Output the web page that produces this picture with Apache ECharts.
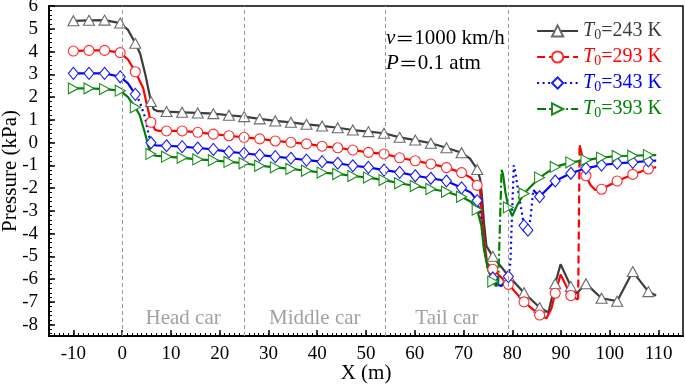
<!DOCTYPE html>
<html><head><meta charset="utf-8">
<script src="https://cdn.jsdelivr.net/npm/echarts@6/dist/echarts.min.js"></script>
<style>html,body{margin:0;padding:0;background:#fff}#c{width:685px;height:387px}</style>
</head><body><div id="c"></div>
<script>
const FONT = '"Liberation Serif","Times New Roman",serif';
const CJK = '"Noto Sans CJK SC",sans-serif';

// tick labels
const xTickLabels = [-10, 0, 10, 20, 30, 40, 50, 60, 70, 80, 90, 100, 110];
const yTickLabels = [-8, -7, -6, -5, -4, -3, -2, -1, 0, 1, 2, 3, 4, 5, 6];

// car sections
const dividers = [0, 25, 54, 79.2];
const carNames = ['Head car', 'Middle car', 'Tail car'];

// legend names / temperatures
const temps = ['243', '293', '343', '393'];
const names = temps.map(t => 'T0=' + t + ' K');

// marker positions (m)
const markX = [-10, -6.8, -3.6, -0.4, 2.7, 5.9, 9.1, 12.3, 15.5, 18.7, 21.9, 25.0, 28.2, 31.4, 34.6, 37.8, 41.0, 44.2, 47.3, 50.5, 53.7, 56.9, 60.1, 63.3, 66.5, 69.6, 72.8, 76.0, 79.2, 82.4, 85.6, 88.8, 92.0, 95.1, 98.3, 101.5, 104.7, 107.9];
const markX343Extra = [83.2];

// pressure curves [X (m), P (kPa)]
const c243 = [[-10,5.35],[-6.8,5.37],[-3.6,5.38],[-0.4,5.25],[1.2,4.95],[2.7,4.36],[3.7,3.9],[4.8,2.95],[5.9,1.8],[6.5,1.45],[7.3,1.38],[9.1,1.36],[12.3,1.33],[15.5,1.30],[18.7,1.27],[21.9,1.20],[25.0,1.14],[28.2,1.04],[31.4,0.95],[34.6,0.89],[37.8,0.80],[41.0,0.73],[44.2,0.65],[47.3,0.55],[50.5,0.48],[53.7,0.41],[56.9,0.23],[60.1,0.11],[63.3,-0.03],[66.5,-0.23],[69.6,-0.45],[71.3,-0.7],[72.8,-1.18],[73.4,-1.6],[73.8,-2.4],[74.2,-3.55],[74.7,-4.55],[76.0,-5.0],[79.2,-5.85],[82.4,-6.6],[85.6,-7.25],[87.4,-7.47],[88.8,-6.2],[89.9,-5.35],[92.0,-6.32],[93.2,-6.62],[95.1,-6.2],[98.3,-6.84],[101.5,-6.97],[104.7,-5.67],[107.9,-6.55],[109.5,-6.72]];
const c293 = [[-10,4.02],[-6.8,4.05],[-3.6,4.05],[-0.4,3.95],[1.2,3.65],[2.7,3.11],[4.3,2.4],[5.3,1.45],[5.9,0.89],[6.8,0.55],[7.6,0.51],[9.1,0.51],[12.3,0.51],[15.5,0.45],[18.7,0.37],[21.9,0.30],[25.0,0.23],[28.2,0.16],[31.4,0.07],[34.6,0.01],[37.8,-0.06],[41.0,-0.16],[44.2,-0.23],[47.3,-0.33],[50.5,-0.43],[53.7,-0.50],[56.9,-0.67],[60.1,-0.80],[63.3,-0.94],[66.5,-1.10],[69.6,-1.32],[71.5,-1.55],[72.8,-1.88],[73.4,-2.1],[73.7,-3.1],[74.2,-4.28],[74.85,-5.3],[76.0,-5.57],[79.2,-6.23],[82.4,-7.0],[85.6,-7.58],[87.0,-7.72],[88.0,-7.3],[88.8,-6.62],[89.9,-5.8],[92.0,-6.72],[93.2,-6.87],[93.5,-6.9],[93.8,-0.12],[94.1,-0.2],[94.4,-0.65],[95.1,-1.46],[96.0,-1.85],[97.0,-2.08],[98.3,-2.05],[101.5,-1.69],[104.7,-1.40],[107.9,-1.16],[109.5,-1.08]];
const c343 = [[-10,3.04],[-6.8,3.04],[-3.6,3.04],[-0.4,2.89],[1.2,2.6],[2.7,2.12],[3.6,1.8],[4.7,1.1],[5.4,0.4],[5.9,-0.01],[6.8,-0.12],[9.1,-0.14],[12.3,-0.18],[15.5,-0.24],[18.7,-0.30],[21.9,-0.41],[25.0,-0.47],[28.2,-0.55],[31.4,-0.62],[34.6,-0.69],[37.8,-0.77],[41.0,-0.84],[44.2,-0.91],[47.3,-1.02],[50.5,-1.09],[53.7,-1.21],[56.9,-1.31],[60.1,-1.46],[63.3,-1.57],[66.5,-1.69],[69.6,-1.99],[71.5,-2.2],[72.8,-2.55],[73.5,-3.2],[74.0,-4.28],[74.85,-5.45],[76.0,-5.95],[76.8,-6.25],[77.8,-6.3],[79.2,-5.89],[79.6,-5.3],[80.3,-1.0],[80.7,-1.4],[81.5,-2.5],[82.4,-3.65],[83.2,-3.85],[83.7,-3.4],[84.3,-2.08],[85.6,-2.38],[88.8,-1.69],[92.0,-1.35],[95.1,-1.13],[98.3,-0.99],[101.5,-0.91],[104.7,-0.87],[107.9,-0.81],[109.5,-0.79]];
const c393 = [[-10,2.38],[-6.8,2.38],[-3.6,2.35],[-0.4,2.28],[1.2,2.0],[2.7,1.55],[3.6,1.2],[4.7,0.4],[5.4,-0.2],[5.9,-0.50],[6.8,-0.58],[9.1,-0.62],[12.3,-0.67],[15.5,-0.74],[18.7,-0.78],[21.9,-0.85],[25.0,-0.91],[28.2,-1.02],[31.4,-1.09],[34.6,-1.16],[37.8,-1.24],[41.0,-1.32],[44.2,-1.38],[47.3,-1.47],[50.5,-1.54],[53.7,-1.65],[56.9,-1.79],[60.1,-1.91],[63.3,-2.04],[66.5,-2.16],[69.6,-2.38],[71.5,-2.6],[72.8,-2.95],[73.7,-3.7],[74.2,-4.72],[75.05,-5.6],[76.0,-6.11],[76.6,-6.3],[77.1,-6.25],[77.8,-1.2],[78.1,-1.4],[78.6,-2.2],[79.2,-2.85],[80.0,-3.23],[81.0,-2.75],[82.4,-2.24],[85.6,-1.54],[88.8,-1.07],[92.0,-0.87],[95.1,-0.77],[98.3,-0.66],[101.5,-0.59],[104.7,-0.58],[107.9,-0.55],[109.5,-0.55]];

// sections drawn with the series' broken line pattern [from X, to X]
const jumps243 = [];
const jumps293 = [[93.5, 93.8]];
const jumps343 = [[2.7, 5.9], [72.8, 76.0], [79.2, 84.3]];
const jumps393 = [[77.1, 77.8]];

const curves = [c243, c293, c343, c393];
const jumps = [jumps243, jumps293, jumps343, jumps393];
const markSets = [markX, markX, markX.concat(markX343Extra), markX];

const lineColors = ['#3c3c3c', '#ff0000', '#0000ff', '#008000'];
const markColors = ['#6a6a6a', '#ff2a2a', '#1a1aff', '#1a8c1a'];
const textColors = ['#3c3c3c', '#ff0000', '#0000ff', '#008000'];
const symbols = ['triangle', 'circle', 'diamond', 'triangle'];
const symSizes = [[11, 10], 10, [10, 12], [11, 10]];
const symRot = [0, 0, 0, -90];
const dashTypes = ['solid', [8, 4], [2, 3.5], [9, 3, 2, 3]];

function splitCurve(curve, jp) {
  const solid = [], broken = [];
  curve.forEach(([x, y]) => {
    const inside = jp.some(([a, b]) => x > a && x < b);
    if (!inside) solid.push([x, y]);
    if (jp.some(([a]) => x === a)) solid.push([x, null]);
  });
  jp.forEach(([a, b]) => {
    curve.forEach(([x, y]) => { if (x >= a && x <= b) broken.push([x, y]); });
    broken.push([b, null]);
  });
  return { solid, broken };
}

const series = [];
curves.forEach((c, i) => {
  const { solid, broken } = splitCurve(c, jumps[i]);
  series.push({
    name: names[i], type: 'line', data: markSets[i].map(x => c.find(p => p[0] === x)).filter(Boolean),
    symbol: symbols[i], symbolSize: symSizes[i], symbolRotate: symRot[i], showSymbol: true,
    lineStyle: { width: 0, opacity: 0 },
    itemStyle: { color: '#ffffff', borderColor: markColors[i], borderWidth: 1.1 },
    z: 4, silent: true, animation: false
  });
  series.push({
    name: names[i] + ' line', type: 'line', data: solid, symbol: 'none', connectNulls: false,
    lineStyle: { width: 2.2, color: lineColors[i] }, z: 3, silent: true, animation: false
  });
  if (broken.length) series.push({
    name: names[i] + ' jump', type: 'line', data: broken, symbol: 'none', connectNulls: false,
    lineStyle: { width: 2.2, color: lineColors[i], type: dashTypes[i] }, z: 3, silent: true, animation: false
  });
});

// car-section dividers and labels
series.push({
  name: 'sections', type: 'scatter', symbolSize: 0, silent: true, animation: false,
  data: carNames.map((n, k) => [(dividers[k] + dividers[k + 1]) / 2, -7.75, n]),
  label: { show: true, position: 'inside', formatter: p => p.value[2], fontFamily: FONT, fontSize: 21, color: '#8a8a8a' },
  markLine: {
    silent: true, symbol: 'none', animation: false, label: { show: false },
    lineStyle: { color: '#9a9a9a', type: [4, 3], width: 1 },
    data: dividers.map(d => ({ xAxis: d }))
  }
});

const rich = {};
textColors.forEach((col, i) => {
  rich['t' + i] = { fontFamily: FONT, fontSize: 20, fontStyle: 'italic', color: col, lineHeight: 22 };
  rich['s' + i] = { fontFamily: FONT, fontSize: 14, color: col, lineHeight: 12, verticalAlign: 'bottom' };
  rich['e' + i] = { fontFamily: FONT, fontSize: 20, color: col, lineHeight: 22 };
});

const xMinor = []; for (let v = -14; v <= 114; v++) xMinor.push(v);
const yMinor = []; for (let v = -42; v <= 29; v++) yMinor.push(+(v * 0.2).toFixed(1));

const annRich = {
  i: { fontFamily: FONT, fontSize: 21, fontStyle: 'italic', fill: '#000' },
  q: { fontFamily: CJK, fontSize: 19, fill: '#000' },
  n: { fontFamily: FONT, fontSize: 21, fill: '#000' }
};

const labelStyle = { fontFamily: FONT, fontSize: 19, color: '#000' };
const chart = echarts.init(document.getElementById('c'), null, { renderer: 'canvas' });
chart.setOption({
  animation: false,
  backgroundColor: '#fff',
  grid: { left: 49, right: 2, top: 6, bottom: 51, show: true, borderColor: '#000', borderWidth: 1.5, containLabel: false, outerBoundsMode: 'none' },
  xAxis: [
    { type: 'value', min: -15, max: 115, splitLine: { show: false },
      axisLine: { onZero: false, lineStyle: { color: '#000', width: 2 } },
      axisTick: { inside: true, length: 6, customValues: xTickLabels, lineStyle: { color: '#000', width: 1.5 } },
      axisLabel: Object.assign({ customValues: xTickLabels, margin: 9 }, labelStyle),
      name: 'X (m)', nameLocation: 'middle', nameGap: 27, nameMoveOverlap: false,
      nameTextStyle: { fontFamily: FONT, fontSize: 21, color: '#000' } },
    { type: 'value', min: -15, max: 115, splitLine: { show: false }, axisLine: { show: false, onZero: false },
      axisTick: { inside: true, length: 3, customValues: xMinor, lineStyle: { color: '#000', width: 1 } },
      axisLabel: { show: false }, position: 'bottom' }
  ],
  yAxis: [
    { type: 'value', min: -8.5, max: 6, splitLine: { show: false },
      axisLine: { onZero: false, lineStyle: { color: '#000', width: 2 } },
      axisTick: { inside: true, length: 6, customValues: yTickLabels, lineStyle: { color: '#000', width: 1.5 } },
      axisLabel: Object.assign({ customValues: yTickLabels, margin: 11 }, labelStyle),
      name: 'Pressure (kPa)', nameLocation: 'middle', nameGap: 28, nameMoveOverlap: false,
      nameTextStyle: { fontFamily: FONT, fontSize: 21, color: '#000' } },
    { type: 'value', min: -8.5, max: 6, splitLine: { show: false }, axisLine: { show: false, onZero: false },
      axisTick: { inside: true, length: 3, customValues: yMinor, lineStyle: { color: '#000', width: 1 } },
      axisLabel: { show: false }, position: 'left' }
  ],
  legend: {
    orient: 'vertical', left: 531, top: 16, itemWidth: 41, itemHeight: 14, itemGap: 5,
    selectedMode: false,
    data: names.map((n, i) => ({ name: n, lineStyle: { width: 2.2, color: lineColors[i], type: dashTypes[i], opacity: 1 }, textStyle: { color: textColors[i] } })),
    formatter: n => { const i = names.indexOf(n); return '{t' + i + '|T}{s' + i + '|0}{e' + i + '|=' + temps[i] + ' K}'; },
    textStyle: { fontFamily: FONT, fontSize: 20, rich }
  },
  graphic: [
    { type: 'text', left: 386, top: 28, silent: true,
      style: { text: '{i|v}{q|＝}{n|1000 km/h}', rich: annRich } },
    { type: 'text', left: 386, top: 53, silent: true,
      style: { text: '{i|P}{q|＝}{n|0.1 atm}', rich: annRich } }
  ],
  series
});
</script></body></html>
